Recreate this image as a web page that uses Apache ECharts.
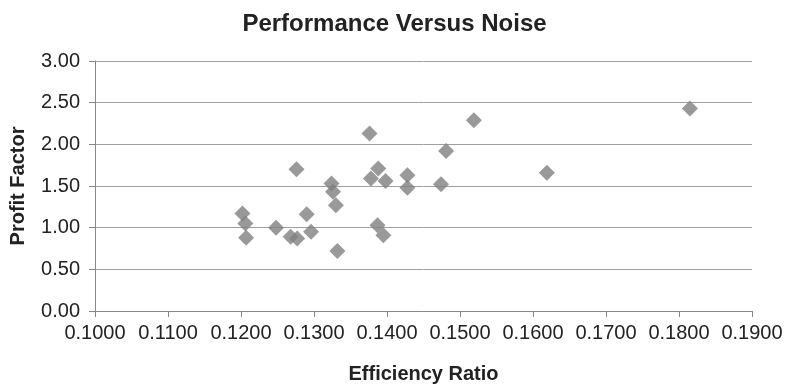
<!DOCTYPE html>
<html>
<head>
<meta charset="utf-8">
<script src="https://cdn.jsdelivr.net/npm/echarts@6/dist/echarts.min.js"></script>
<style>
html,body{margin:0;padding:0;background:#fff;}
#c{width:789px;height:389px;}
</style>
</head>
<body>
<div id="c"></div>
<script>
var titleText = "Performance Versus Noise";
var xName = "Efficiency Ratio";
var yName = "Profit Factor";
var efficiencyRatio = [0.1202,0.1206,0.1207,0.1248,0.1268,0.1277,0.1276,0.1290,0.1296,0.1324,0.1326,0.1330,0.1332,0.1376,0.1378,0.1388,0.1398,0.1387,0.1395,0.1428,0.1428,0.1519,0.1481,0.1474,0.1619,0.1815];
var profitFactor = [1.17,1.05,0.88,1.00,0.89,0.87,1.70,1.16,0.95,1.53,1.43,1.27,0.72,2.13,1.59,1.71,1.56,1.03,0.91,1.63,1.48,2.29,1.92,1.52,1.66,2.43];

var points = efficiencyRatio.map(function(x,i){return [x, profitFactor[i]];});
var font = "'Liberation Sans', Arial, sans-serif";
var chart = echarts.init(document.getElementById('c'), null, {renderer:'canvas'});
chart.setOption({
  animation:false,
  backgroundColor:'#fff',
  title:{text:titleText,left:'center',top:7,textStyle:{fontFamily:font,fontSize:24,fontWeight:'bold',color:'#222'}},
  grid:{left:93,right:37,top:61,bottom:70,containLabel:false},
  xAxis:{type:'value',min:0.1,max:0.19,interval:0.01,
    name:xName,nameLocation:'middle',nameGap:53,
    nameTextStyle:{fontFamily:font,fontSize:20,fontWeight:'bold',color:'#222'},
    axisLine:{show:true,lineStyle:{color:'#888',width:1}},
    axisTick:{show:true,length:6,lineStyle:{color:'#888'}},
    splitLine:{show:false},
    axisLabel:{fontFamily:font,fontSize:20,color:'#222',margin:12,formatter:function(v){return v.toFixed(4);}}
  },
  yAxis:{type:'value',min:0,max:3,interval:0.5,
    name:yName,nameLocation:'middle',nameGap:67,nameRotate:90,
    nameTextStyle:{fontFamily:font,fontSize:20,fontWeight:'bold',color:'#222'},
    axisLine:{show:true,lineStyle:{color:'#888',width:1}},
    axisTick:{show:true,length:6,lineStyle:{color:'#888'}},
    splitLine:{show:true,lineStyle:{color:'#a0a0a0',width:1}},
    axisLabel:{fontFamily:font,fontSize:20,color:'#222',margin:15,formatter:function(v){return v.toFixed(2);}}
  },
  series:[{type:'scatter',data:points,symbol:'diamond',symbolSize:16,itemStyle:{color:'#7f7f7f'}}]
});
</script>
</body>
</html>
